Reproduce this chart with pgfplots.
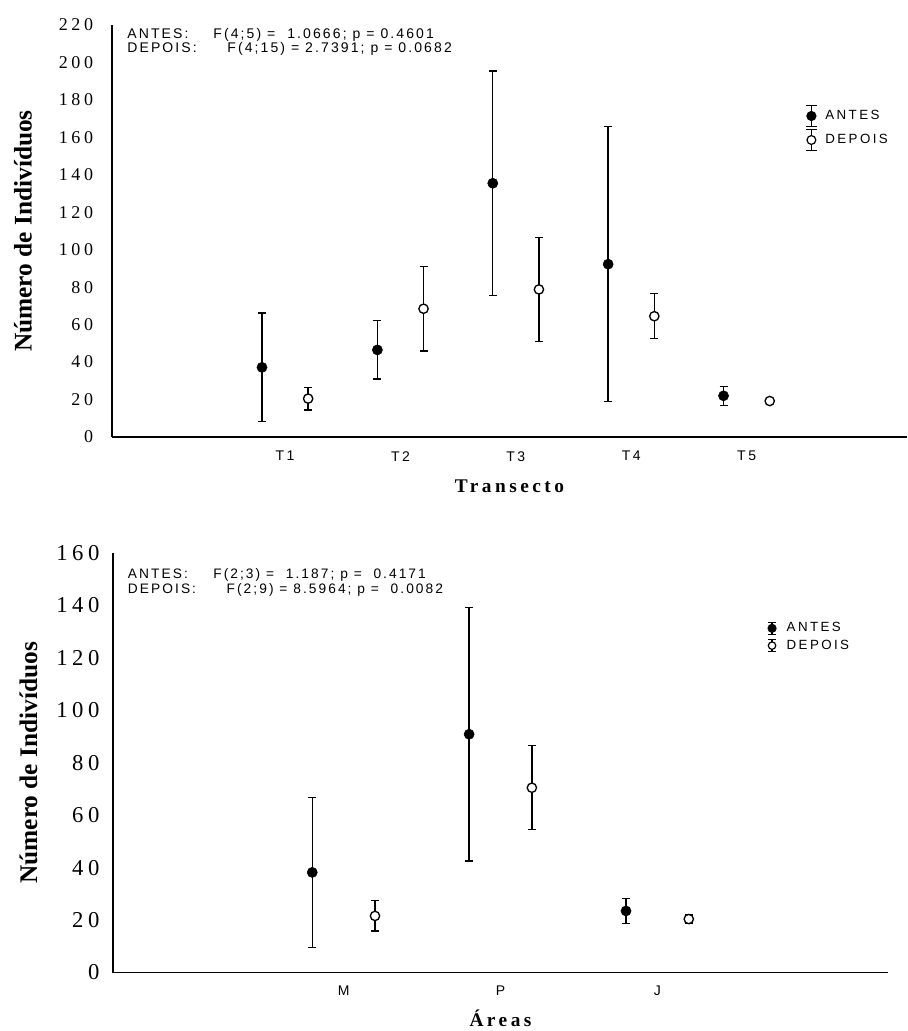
\documentclass[border=0pt]{standalone}
\usepackage{pgfplots}
\usepackage{pgfplotstable}
\pgfplotsset{compat=1.18}
\usepackage{fontspec}
\setmainfont{Liberation Serif}
\newfontfamily\tickserif[LetterSpace=20]{Liberation Serif}
\newfontfamily\ticksans[LetterSpace=18]{Liberation Sans}
\newfontfamily\annsans[LetterSpace=15]{Liberation Sans}
\newfontfamily\labserif[LetterSpace=18]{Liberation Serif}

\pgfplotstableread{
x y e
0.8 37.2 29.0
1.8 46.5 15.6
2.8 135.5 60.0
3.8 92.3 73.5
4.8 22.0 5.0
}\topA
\pgfplotstableread{
x y e
1.2 20.5 6.0
2.2 68.5 22.6
3.2 78.8 27.8
4.2 64.5 12.0
5.2 19.2 1.0
}\topD
\pgfplotstableread{
x y e
0.8 38.2 28.6
1.8 90.9 48.3
2.8 23.5 4.7
}\botA
\pgfplotstableread{
x y e
1.2 21.6 5.8
2.2 70.5 16.0
3.2 20.4 1.5
}\botD

\pgfplotsset{
  common/.style={
    scale only axis, axis lines=left, axis line style={line width=1pt,-},
    major tick length=0pt, tick style={draw=none},
    /pgf/number format/assume math mode=true,
    xticklabel style={font=\ticksans\fontsize{10.5}{12}\selectfont, anchor=north, inner sep=0pt},
    legend cell align=left,
  },
  errA/.style={only marks, black, mark=*, mark size=3.8pt,
    error bars/.cd, y dir=both, y explicit,
    error bar style={line width=1pt},
    error mark options={rotate=90, line width=1pt, mark size=3pt, black},
    /pgfplots/.cd},
  errD/.style={only marks, black, mark=*, mark size=3.5pt,
    mark options={fill=white, draw=black, line width=1pt},
    error bars/.cd, y dir=both, y explicit,
    error bar style={line width=1pt},
    error mark options={rotate=90, line width=1pt, mark size=3pt, black},
    /pgfplots/.cd},
}

\begin{document}
\begin{tikzpicture}
\useasboundingbox (0,0) rectangle (680.25pt,-773.25pt);

% ---------------- top panel ----------------
\begin{axis}[common,
  at={(84pt,-327.75pt)}, anchor=south west,
  width=596.25pt, height=309pt,
  xmin=-0.5, xmax=6.39, ymin=0, ymax=220,
  ytick={0,20,...,220},
  xtick={1,2,3,4,5}, xticklabels={T1,T2,T3,T4,T5},
  yticklabel style={font=\tickserif\fontsize{13.5}{14}\selectfont, anchor=east, inner sep=0pt, xshift=-14pt},
  xticklabel style={yshift=-10.5pt},
  xlabel={\labserif\bfseries\fontsize{14.5}{16}\selectfont Transecto},
  xlabel style={at={(axis description cs:0.5,0)}, anchor=north, inner sep=0pt, yshift=-32pt},
  ylabel={\bfseries\fontsize{19}{20}\selectfont Número de Indivíduos},
  ylabel style={at={(axis description cs:-0.112,0.5)}, anchor=center, inner sep=0pt},
  legend style={draw=none, fill=none, at={(0.866,0.75)}, anchor=west,
     font=\ticksans\fontsize{10}{11}\selectfont, row sep=1pt,
     nodes={inner sep=1.5pt}},
]
\addlegendimage{legend image code/.code={
  \path[draw=none] (0pt,0pt) -- (14pt,0pt);
  \draw[line width=1pt] (5pt,-8pt) -- (5pt,8pt);
  \draw[line width=1pt] (1pt,8pt) -- (9pt,8pt);
  \draw[line width=1pt] (1pt,-8pt) -- (9pt,-8pt);
  \fill (5pt,0) circle (3.6pt);}}
\addlegendentry{ANTES}
\addlegendimage{legend image code/.code={
  \path[draw=none] (0pt,0pt) -- (14pt,0pt);
  \draw[line width=1pt] (5pt,-8pt) -- (5pt,8pt);
  \draw[line width=1pt] (1pt,8pt) -- (9pt,8pt);
  \draw[line width=1pt] (1pt,-8pt) -- (9pt,-8pt);
  \filldraw[fill=white, line width=0.9pt] (5pt,0) circle (3.3pt);}}
\addlegendentry{DEPOIS}

\addplot[forget plot, errA] table[x=x, y=y, y error=e]{\topA};
\addplot[forget plot, errD] table[x=x, y=y, y error=e]{\topD};

\node[anchor=north west, inner sep=0pt, align=left,
  font=\annsans\fontsize{10.5}{10.5}\selectfont] at (rel axis cs:0.019,0.993)
  {\makebox[64.5pt][l]{ANTES:}F(4;5) = \ 1.0666; p = 0.4601\\
   \makebox[75pt][l]{DEPOIS:}F(4;15) = 2.7391; p = 0.0682};
\end{axis}

% ---------------- bottom panel ----------------
\begin{axis}[common,
  at={(84.75pt,-729.4pt)}, anchor=south west,
  width=581.25pt, height=314.6pt,
  xmin=-0.47, xmax=4.47, ymin=0, ymax=160,
  ytick={0,20,...,160},
  xtick={1,2,3}, xticklabels={M,P,J},
  yticklabel style={font=\tickserif\fontsize{17}{18}\selectfont, anchor=east, inner sep=0pt, xshift=-10pt},
  xticklabel style={yshift=-9.75pt},
  xlabel={\labserif\bfseries\fontsize{14.5}{16}\selectfont Áreas},
  xlabel style={at={(axis description cs:0.5,0)}, anchor=north, inner sep=0pt, yshift=-28pt},
  ylabel={\bfseries\fontsize{19}{20}\selectfont Número de Indivíduos},
  ylabel style={at={(axis description cs:-0.109,0.5)}, anchor=center, inner sep=0pt},
  legend style={draw=none, fill=none, at={(0.838,0.80)}, anchor=west,
     font=\ticksans\fontsize{10}{11}\selectfont, row sep=2.5pt,
     nodes={inner sep=1pt}},
]
\addlegendimage{legend image code/.code={
  \path[draw=none] (0pt,0pt) -- (14pt,0pt);
  \draw[line width=1pt] (4pt,-4.5pt) -- (4pt,4.5pt);
  \draw[line width=1pt] (1pt,4.5pt) -- (7pt,4.5pt);
  \draw[line width=1pt] (1pt,-4.5pt) -- (7pt,-4.5pt);
  \fill (4pt,0) circle (3.2pt);}}
\addlegendentry{ANTES}
\addlegendimage{legend image code/.code={
  \path[draw=none] (0pt,0pt) -- (14pt,0pt);
  \draw[line width=1pt] (4pt,-4.5pt) -- (4pt,4.5pt);
  \draw[line width=1pt] (1pt,4.5pt) -- (7pt,4.5pt);
  \draw[line width=1pt] (1pt,-4.5pt) -- (7pt,-4.5pt);
  \filldraw[fill=white, line width=0.9pt] (4pt,0) circle (2.8pt);}}
\addlegendentry{DEPOIS}

\addplot[forget plot, errA] table[x=x, y=y, y error=e]{\botA};
\addplot[forget plot, errD] table[x=x, y=y, y error=e]{\botD};

\node[anchor=north west, inner sep=0pt, align=left,
  font=\annsans\fontsize{10.3}{11.25}\selectfont] at (rel axis cs:0.019,0.964)
  {\makebox[64pt][l]{ANTES:}F(2;3) = \ 1.187; p = \ 0.4171\\
   \makebox[74pt][l]{DEPOIS:}F(2;9) = 8.5964; p = \ 0.0082};
\end{axis}
\end{tikzpicture}
\end{document}
